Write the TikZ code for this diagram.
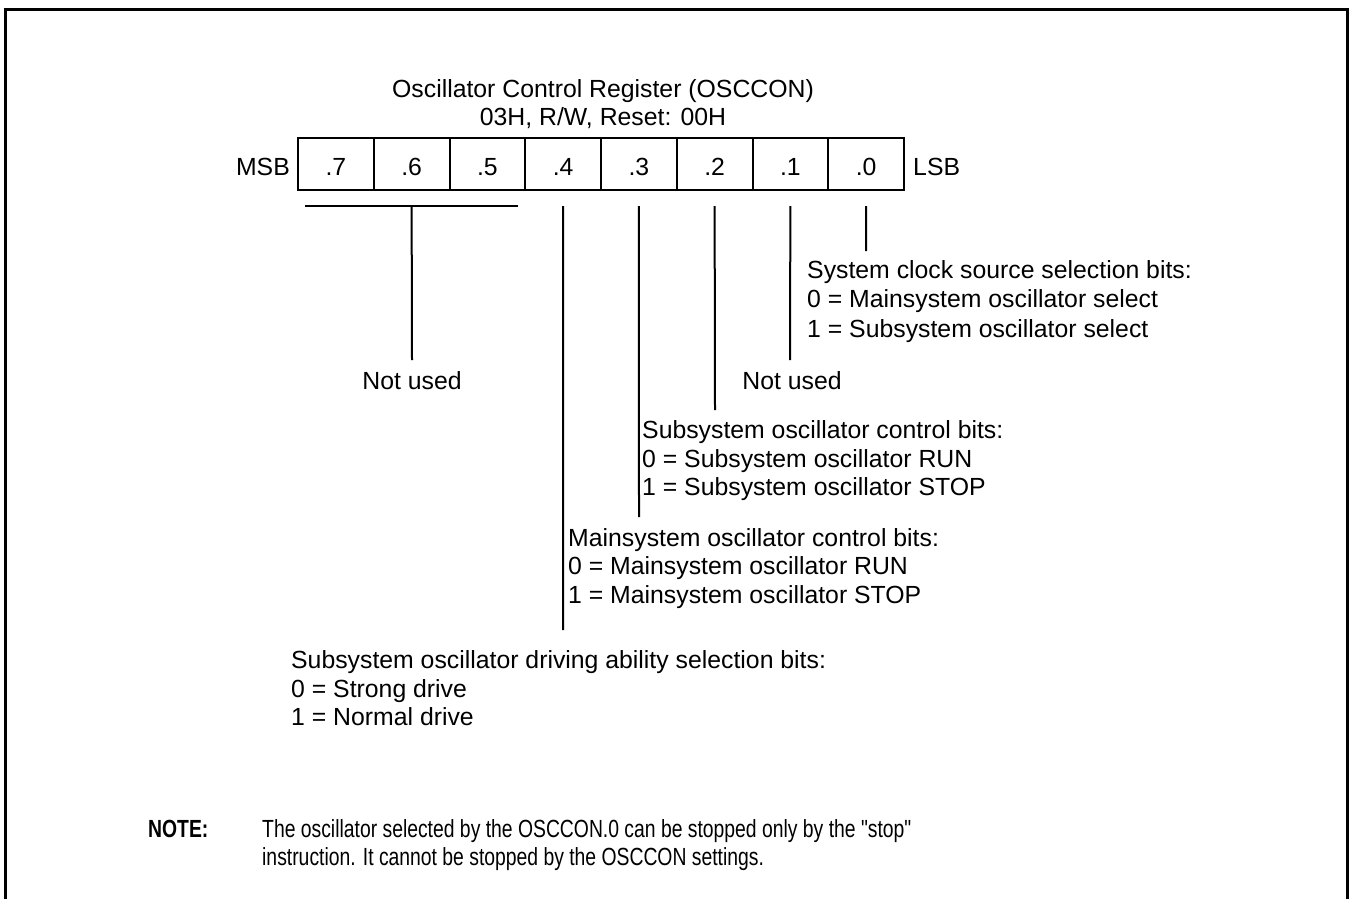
\documentclass[tikz,border=0pt]{standalone}
\usepackage{fontspec}
\setmainfont{Liberation Sans}
\newfontfamily\notefont[FakeStretch=0.78]{Liberation Sans}
\usetikzlibrary{calc}
\begin{document}
\begin{tikzpicture}[x=1pt,y=-1pt,
  every node/.style={inner sep=0pt},
  txt/.style={anchor=base west, font=\fontsize{24.8}{29}\selectfont},
  txtc/.style={anchor=base, font=\fontsize{24.8}{29}\selectfont},
  notetxt/.style={anchor=base west, font=\fontsize{24.8}{29}\notefont},
  cell/.style={draw, line width=2pt, minimum width=75.75pt, minimum height=52pt,
    text height=22pt, text depth=0pt, font=\fontsize{24.8}{29}\selectfont},
  conn/.style={line width=2pt},
  frame/.style={line width=3pt}]
\useasboundingbox (0,0) rectangle (1354,899);
% frame (open at the bottom)
\coordinate (fbl) at (5.5,905);
\coordinate (ftl) at (5.5,9.5);
\coordinate (ftr) at (1347.5,9.5);
\coordinate (fbr) at (1347.5,905);
\draw[frame] (fbl) -- (ftl) -- (ftr) -- (fbr);
% title
\node[txtc] (t1) at (603,97) {Oscillator Control Register (OSCCON)};
\node[txtc] (t2) at (603,125) {03H, R/W, Reset: 00H};
% register cells
\foreach \i/\b in {0/7,1/6,2/5,3/4,4/3,5/2,6/1,7/0}{
  \node[cell] (c\b) at ({298+75.75*(\i+0.5)},164) {.\b};
}
\node[txt, anchor=base east] (msb) at (290,175) {MSB};
\node[txt] (lsb) at (913,175) {LSB};
% bracket for bits 7..5
\coordinate (bl) at (305,206);
\coordinate (br) at (518,206);
\coordinate (bm) at ($(c6.center)+(0,42)$);
\draw[conn] (bl) -- (br);
\coordinate (e6) at (412,360);
\draw[conn] (bm) -- (e6);
% bit connectors
\coordinate (e4) at (563,630);
\coordinate (e3) at (639,517);
\coordinate (e2) at (715,410);
\coordinate (e1) at (790,360);
\coordinate (e0) at (866,251);
\foreach \b in {4,3,2,1,0}{
  \draw[conn] ($(c\b.center)+(0,42)$) -- (e\b);
}
% descriptions
\node[txt] (s0a) at (807,278) {System clock source selection bits:};
\node[txt] (s0b) at (807,307) {0 = Mainsystem oscillator select};
\node[txt] (s0c) at (807,337) {1 = Subsystem oscillator select};
\node[txtc] (nu1) at (412,389) {Not used};
\node[txtc] (nu2) at (792,389) {Not used};
\node[txt] (s2a) at (642,438) {Subsystem oscillator control bits:};
\node[txt] (s2b) at (642,467) {0 = Subsystem oscillator RUN};
\node[txt] (s2c) at (642,495) {1 = Subsystem oscillator STOP};
\node[txt] (s3a) at (568,546) {Mainsystem oscillator control bits:};
\node[txt] (s3b) at (568,574) {0 = Mainsystem oscillator RUN};
\node[txt] (s3c) at (568,603) {1 = Mainsystem oscillator STOP};
\node[txt] (s4a) at (291,668) {Subsystem oscillator driving ability selection bits:};
\node[txt] (s4b) at (291,697) {0 = Strong drive};
\node[txt] (s4c) at (291,725) {1 = Normal drive};
% note
\node[notetxt, font=\fontsize{24.8}{29}\notefont\bfseries] (note) at (148,837) {NOTE:};
\node[notetxt] (n1) at (262,837) {The oscillator selected by the OSCCON.0 can be stopped only by the "stop"};
\node[notetxt] (n2) at (262,865) {instruction. It cannot be stopped by the OSCCON settings.};
\end{tikzpicture}
\end{document}
